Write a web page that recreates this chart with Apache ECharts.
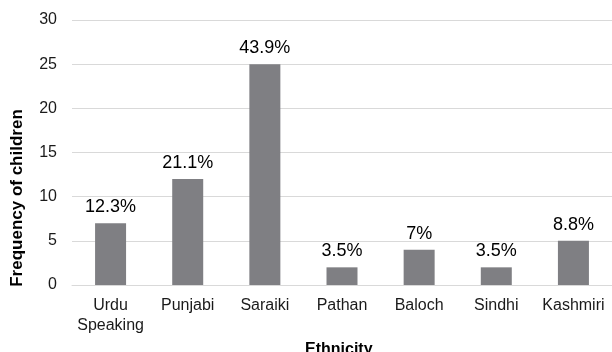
<!DOCTYPE html>
<html>
<head>
<meta charset="utf-8">
<script src="https://cdn.jsdelivr.net/npm/echarts@6/dist/echarts.min.js"></script>
<style>
  html, body { margin: 0; padding: 0; background: #fff; }
  #chart { width: 612px; height: 352px; }
</style>
</head>
<body>
<div id="chart"></div>
<script>
const categories = ['Urdu\nSpeaking', 'Punjabi', 'Saraiki', 'Pathan', 'Baloch', 'Sindhi', 'Kashmiri']
const frequencies = [7, 12, 25, 2, 4, 2, 5]
const percentLabels = ['12.3%', '21.1%', '43.9%', '3.5%', '7%', '3.5%', '8.8%']
const yTicks = { min: 0, max: 30, interval: 5 }

const chart = echarts.init(document.getElementById('chart'))
const font = 'Liberation Sans, Arial, sans-serif'

const option = {
  animation: false,
  grid: { left: 72, right: -8, top: 20, bottom: 67 },
  xAxis: {
    type: 'category',
    data: categories,
    axisTick: { show: false },
    axisLine: { lineStyle: { color: '#d9d9d9', width: 1 } },
    axisLabel: { color: '#1a1a1a', fontSize: 16, fontFamily: font, margin: 11, lineHeight: 20, interval: 0 }
  },
  yAxis: {
    type: 'value',
    min: yTicks.min,
    max: yTicks.max,
    interval: yTicks.interval,
    axisLine: { show: false },
    axisTick: { show: false },
    axisLabel: { color: '#1a1a1a', fontSize: 16, fontFamily: font, margin: 15 },
    splitLine: { lineStyle: { color: '#d9d9d9', width: 1 } }
  },
  title: {
    text: 'Ethnicity',
    left: 300,
    top: 337,
    textStyle: { fontSize: 16, fontWeight: 'bold', color: '#000', fontFamily: font }
  },
  graphic: [{
    type: 'text',
    x: 17,
    y: 198,
    rotation: Math.PI / 2,
    style: {
      text: 'Frequency of children',
      fontSize: 17,
      fontWeight: 'bold',
      fontFamily: font,
      fill: '#000',
      align: 'center',
      verticalAlign: 'middle'
    }
  }],
  series: [{
    type: 'bar',
    data: frequencies,
    barWidth: 31,
    itemStyle: { color: '#7f7f83' },
    label: {
      show: true,
      position: 'top',
      distance: 7,
      fontSize: 18,
      fontFamily: font,
      color: '#000',
      formatter: (p) => percentLabels[p.dataIndex]
    }
  }]
}
chart.setOption(option)
</script>
</body>
</html>
